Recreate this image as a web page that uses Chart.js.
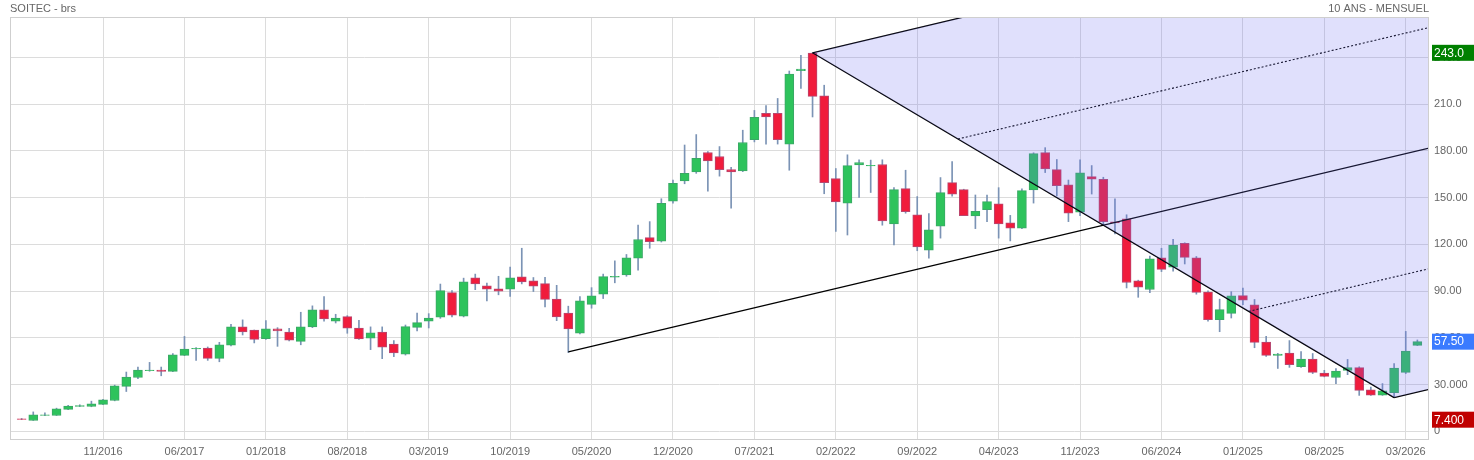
<!DOCTYPE html>
<html><head><meta charset="utf-8">
<script src="https://cdn.jsdelivr.net/npm/chart.js@4/dist/chart.umd.min.js"></script>
<style>html,body{margin:0;padding:0;background:#fff}#wrap{width:1474px;height:460px}</style>
</head><body><div id="wrap"><canvas id="c"></canvas></div>
<script>
const startYear = 2016, startMonth = 4; // first candle 04/2016
const opens  = [8.0,6.9,10.2,10.1,14.0,16.0,15.9,17.2,19.7,28.8,34.5,38.8,39.3,38.4,48.7,52.9,53.4,46.8,55.2,67.0,65.0,59.4,65.7,63.7,57.7,67.0,77.9,70.6,73.6,66.3,59.7,63.7,56.0,49.4,66.7,70.6,73.2,89.0,73.8,98.5,93.3,91.4,91.2,99.1,96.5,94.8,84.9,75.9,62.9,81.5,88.0,99.0,100.4,111.1,124.3,122.1,147.8,160.7,166.5,179.0,176.4,168.0,167.2,187.3,204.1,204.1,184.4,231.5,242.9,215.4,162.2,146.5,171.0,170.4,171.3,133.2,155.8,139.0,116.3,131.6,159.6,155.1,138.2,142.3,146.1,133.8,130.4,154.9,178.9,168.0,158.3,140.7,163.5,161.8,134.5,136.4,96.5,91.0,111.4,105.3,120.6,111.4,89.4,71.6,75.7,87.1,81.1,57.3,48.7,50.2,41.4,46.3,37.3,34.5,39.1,40.8,26.6,23.2,24.7,37.8,55.1];
const closes = [7.5,10.5,10.4,14.4,16.1,16.2,17.6,20.2,29.2,34.8,39.3,39.1,38.4,49.1,52.8,53.2,46.8,55.4,67.0,63.7,59.0,65.7,64.4,58.4,67.0,77.9,72.1,72.7,66.1,59.2,63.1,53.9,50.2,67.2,69.7,72.7,90.3,74.5,95.9,94.6,91.2,89.9,98.5,95.9,93.1,84.7,73.4,65.7,83.7,86.9,99.3,99.3,111.4,123.1,121.7,146.3,159.2,165.6,175.3,173.6,168.0,166.5,185.4,201.5,201.9,187.3,229.3,232.5,215.0,159.6,147.2,170.6,172.5,170.6,135.0,155.1,141.0,118.4,129.4,153.2,152.3,138.4,141.2,147.4,133.2,130.4,154.5,178.3,168.5,157.7,140.1,166.0,161.8,134.6,133.8,95.5,92.5,110.7,103.9,119.3,111.6,89.2,71.6,78.1,86.9,84.1,57.0,48.7,49.5,42.7,46.3,37.8,35.2,38.6,40.8,26.2,23.2,25.9,40.6,51.5,57.5];
const highs  = [8.2,12.4,11.8,14.8,16.6,17.0,19.3,20.5,29.6,38.0,41.2,44.2,41.2,49.8,60.9,53.7,54.1,57.1,68.7,71.5,65.0,71.0,66.5,66.1,76.4,80.5,86.5,75.1,74.2,71.2,67.0,67.0,58.2,68.2,75.8,75.5,94.5,90.3,98.3,100.9,95.1,99.5,105.4,117.5,98.7,98.9,93.7,80.3,86.5,92.2,100.9,109.4,113.5,132.3,134.6,149.3,161.3,183.8,190.5,179.5,182.8,169.5,193.3,206.0,209.1,213.7,231.3,241.4,243.0,222.2,168.7,177.5,174.3,174.1,174.3,156.4,167.6,150.7,139.8,162.9,173.2,155.4,151.7,151.7,156.4,138.6,155.6,178.8,182.1,174.5,161.3,174.3,170.6,163.1,149.3,139.0,97.0,112.5,117.5,123.2,121.0,112.2,90.1,84.8,89.6,91.9,84.6,60.9,50.0,58.2,51.1,49.9,39.1,40.3,46.1,41.4,28.3,30.6,43.5,64.1,58.6];
const lows   = [7.4,6.9,10.0,10.1,13.9,15.8,15.7,17.0,19.5,25.5,33.7,38.5,35.6,38.2,48.5,45.5,45.5,44.6,54.7,61.8,56.7,59.0,54.5,58.0,55.5,66.5,70.7,69.5,62.9,59.0,52.4,46.6,47.9,48.9,64.4,66.3,72.5,73.4,73.4,90.9,83.6,87.6,86.5,94.6,89.7,79.8,71.0,50.5,62.5,79.0,85.2,95.3,99.5,103.4,117.5,121.5,146.5,158.9,165.6,154.1,163.8,143.3,166.7,185.8,184.4,184.4,167.6,220.2,201.8,152.5,128.3,126.0,150.2,153.3,132.3,119.6,140.0,115.9,111.2,124.0,151.0,138.4,130.1,134.6,124.0,122.2,130.0,146.5,166.1,151.1,134.6,138.4,152.3,132.5,126.7,92.0,86.0,89.0,102.5,102.8,107.4,88.0,70.6,63.9,72.7,81.3,53.6,48.0,40.3,41.0,41.0,37.0,34.9,30.6,36.3,23.0,23.0,23.0,21.6,37.0,55.0];
// pitchfork pivots (month index, price)
const pivotA = [68, 243.0];
const pivotB = [47, 51.0];
const pivotC = [118, 21.6];
const yTickLabels = {0:'0',30:'30.000',60:'60.00',90:'90.00',120:'120.00',150:'150.00',180:'180.00',210:'210.0',240:'240.0'};
const lastPrice = 57.50, periodHigh = 243.0, periodLow = 7.400;

const GREEN='#2ec35c', RED='#f01c3c', WICK='#7b93b5';
const n = opens.length;
const up = i => closes[i] >= opens[i];
const wickData = highs.map((h,i)=>({x:i,y:[lows[i],h]}));
const bodyData = opens.map((o,i)=>({x:i,y:[o, Math.abs(closes[i]-o)<0.4 ? o+(up(i)?0.4:-0.4) : closes[i]]}));

const XMAX = 121;
const mid = [(pivotA[0]+pivotC[0])/2,(pivotA[1]+pivotC[1])/2];
const slope = (mid[1]-pivotB[1])/(mid[0]-pivotB[0]);
const ray = (p)=>[{x:p[0],y:p[1]},{x:XMAX,y:p[1]+slope*(XMAX-p[0])}];
const q = f=>[pivotA[0]+f*(pivotC[0]-pivotA[0]), pivotA[1]+f*(pivotC[1]-pivotA[1])];
const lineDs = (data,dash)=>({type:'line',data,borderColor:'#000',borderWidth:dash?1.1:1.3,borderDash:dash?[2,2]:[],pointRadius:0,order:1,fill:false,tension:0});

const fmtMonth = v=>{const t=startMonth-1+v;const y=startYear+Math.floor(t/12);const m=(t%12)+1;return String(m).padStart(2,'0')+'/'+y;};

const overlay = {
  id:'overlay',
  afterDatasetsDraw(chart){
    const {ctx,chartArea:a,scales:{x,y}}=chart;
    const up1=ray(pivotA)[1], lo1=ray(pivotC)[1];
    ctx.save();
    ctx.beginPath();ctx.rect(a.left,a.top,a.right-a.left,a.bottom-a.top);ctx.clip();
    ctx.beginPath();
    ctx.moveTo(x.getPixelForValue(pivotA[0]),y.getPixelForValue(pivotA[1]));
    ctx.lineTo(x.getPixelForValue(up1.x),y.getPixelForValue(up1.y));
    ctx.lineTo(x.getPixelForValue(lo1.x),y.getPixelForValue(lo1.y));
    ctx.lineTo(x.getPixelForValue(pivotC[0]),y.getPixelForValue(pivotC[1]));
    ctx.closePath();
    ctx.fillStyle='rgba(110,110,240,0.21)';ctx.fill();
    ctx.restore();
  },
  afterDraw(chart){
    const {ctx,chartArea:a,scales:{y}}=chart;
    ctx.save();
    ctx.strokeStyle='#cfcfcf';ctx.lineWidth=1;
    ctx.strokeRect(a.left+0.5,a.top+0.5,a.right-a.left-1,a.bottom-a.top);
    ctx.font='11px "Liberation Sans", Arial, sans-serif';ctx.fillStyle='#666';ctx.textBaseline='middle';
    ctx.textAlign='left';ctx.fillText('SOITEC - brs',10,9);
    ctx.textAlign='right';ctx.fillText('10 ANS - MENSUEL',a.right,9);
    const tag=(v,bg,txt)=>{const py=y.getPixelForValue(v);ctx.fillStyle=bg;ctx.fillRect(a.right+3,py-8,42,16);ctx.fillStyle='#fff';ctx.textAlign='left';ctx.font='12px "Liberation Sans", Arial, sans-serif';ctx.fillText(txt,a.right+5,py+0.5);};
    tag(periodHigh,'#008000',periodHigh.toFixed(1));
    tag(lastPrice,'#3a7bff',lastPrice.toFixed(2));
    tag(periodLow,'#c00000',periodLow.toFixed(3));
    ctx.restore();
  }
};

new Chart(document.getElementById('c'),{
  type:'bar',
  data:{datasets:[
    {data:wickData,backgroundColor:WICK,borderWidth:0,barThickness:1,grouped:false,order:3},
    {data:bodyData,backgroundColor:bodyData.map((d,i)=>up(i)?GREEN:RED),borderColor:bodyData.map((d,i)=>up(i)?'#3aa866':'#b84870'),borderWidth:1,borderSkipped:false,barThickness:9,grouped:false,order:2},
    lineDs(ray(pivotA),false),
    lineDs(ray(pivotC),false),
    lineDs([{x:pivotB[0],y:pivotB[1]},ray(mid)[1]],false),
    lineDs([{x:pivotA[0],y:pivotA[1]},{x:pivotC[0],y:pivotC[1]}],false),
    lineDs(ray(q(0.25)),true),
    lineDs(ray(q(0.75)),true)
  ]},
  options:{
    responsive:true,maintainAspectRatio:false,animation:false,
    layout:{padding:{left:10,top:17,right:0,bottom:0}},
    plugins:{legend:{display:false},tooltip:{enabled:false}},
    scales:{
      x:{type:'linear',min:-1,max:XMAX,offset:false,
        grid:{color:'#dcdcdc',drawTicks:false,offset:false},border:{display:false},
        ticks:{stepSize:7,color:'#666',font:{family:'"Liberation Sans", Arial, sans-serif',size:11},padding:6,maxRotation:0,autoSkip:false,callback:v=>fmtMonth(v)},
        afterBuildTicks:s=>{s.ticks=[];for(let v=7;v<n;v+=7)s.ticks.push({value:v});},
        afterFit:s=>{s.height=21;}},
      y:{position:'right',min:-5,max:266,
        grid:{color:'#dcdcdc',drawTicks:false},border:{display:false},
        ticks:{stepSize:30,color:'#666',font:{family:'"Liberation Sans", Arial, sans-serif',size:11},padding:5,callback:v=>yTickLabels[v]},
        afterBuildTicks:s=>{s.ticks=Object.keys(yTickLabels).map(k=>({value:+k}));},
        afterFit:s=>{s.width=45;}}
    }
  },
  plugins:[overlay]
});
</script></body></html>
